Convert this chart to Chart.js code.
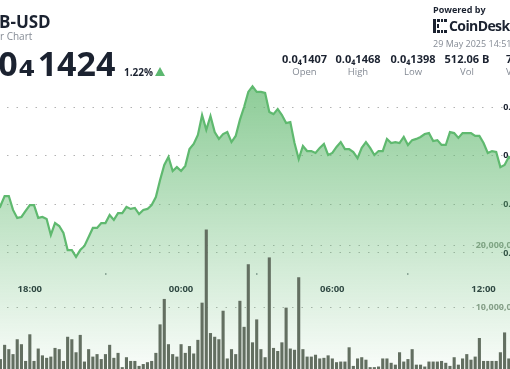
<!DOCTYPE html>
<html>
<head>
<meta charset="utf-8">
<script src="https://cdn.jsdelivr.net/npm/chart.js@4.4.1/dist/chart.umd.min.js"></script>
<style>
html,body{margin:0;padding:0;background:#fff;width:510px;height:369px;overflow:hidden;position:relative;font-family:'Open Sans',sans-serif;color:#1b2230}
#wrap{position:absolute;left:-50px;top:0;width:605px;height:369px}
.t{position:absolute;white-space:nowrap;line-height:1;z-index:2}
.b{font-weight:700}
.g{color:#858b95}
.col{width:60px;text-align:center}
.sub{font-family:'DejaVu Sans',sans-serif;line-height:0;font-size:39px;margin:0 2px 0 1px}
#tri{position:absolute;left:155px;top:67px;width:0;height:0;border-left:5.5px solid transparent;border-right:5.5px solid transparent;border-bottom:9px solid #5cb870}
#logo{position:absolute;left:433px;top:19px}
</style>
</head>
<body>
<div id="wrap"><canvas id="chartCanvas" width="605" height="369"></canvas></div>

<div class="t b" style="left:-1px;top:13px;font-size:17px">B-USD</div>
<div class="t g" style="left:0;top:31px;font-size:10px">r Chart</div>
<div class="t b" style="left:-31px;top:46px;font-size:34px">0.0<span class="sub">₄</span>1424</div>
<div class="t b" style="left:124px;top:66.5px;font-size:10px">1.22%</div>
<div id="tri"></div>

<div class="t b" style="left:433px;top:4.5px;font-size:9px">Powered by</div>
<svg id="logo" width="14" height="14" viewBox="0 0 14 14">
  <rect x="0" y="0" width="3" height="14" fill="#1b2230"/>
  <rect x="4" y="0" width="3" height="3" fill="#1b2230"/>
  <rect x="8" y="0" width="2" height="3" fill="#1b2230"/>
  <rect x="11" y="0" width="3" height="3" fill="#1b2230"/>
  <rect x="4" y="11" width="3" height="3" fill="#1b2230"/>
  <rect x="8" y="11" width="2" height="3" fill="#1b2230"/>
  <rect x="11" y="11" width="3" height="3" fill="#1b2230"/>
  <rect x="4" y="5" width="2" height="4" fill="#1b2230"/>
</svg>
<div class="t b" style="left:449px;top:19px;font-size:14px;letter-spacing:-0.6px">CoinDesk</div>
<div class="t g" style="left:433px;top:39px;font-size:9px">29 May 2025 14:51</div>

<div class="t b col" style="left:274.5px;top:52.5px;font-size:11px">0.0₄1407</div>
<div class="t g col" style="left:274.5px;top:67px;font-size:9.5px">Open</div>
<div class="t b col" style="left:328px;top:52.5px;font-size:11px">0.0₄1468</div>
<div class="t g col" style="left:328px;top:67px;font-size:9.5px">High</div>
<div class="t b col" style="left:383px;top:52.5px;font-size:11px">0.0₄1398</div>
<div class="t g col" style="left:383px;top:67px;font-size:9.5px">Low</div>
<div class="t b col" style="left:437px;top:52.5px;font-size:11px">512.06 B</div>
<div class="t g col" style="left:437px;top:67px;font-size:9.5px">Vol</div>
<div class="t b" style="left:506px;top:52.5px;font-size:11px">7</div>
<div class="t g" style="left:506px;top:67px;font-size:9.5px">V</div>

<script>
// 10 minute steps, 24 hours
const startMinute = 14 * 60 + 50;
const timeLabels = [];
for (let i = 0; i < 145; i++) {
    const m = (startMinute + i * 10) % 1440;
    timeLabels.push(String(Math.floor(m / 60)).padStart(2, '0') + ':' + String(m % 60).padStart(2, '0'));
}
const timeTicks = ['18:00', '00:00', '06:00', '12:00'];

// price in units of 0.0₄ (1424 -> 0.0₄1424 USD)
const price = [
    1407, 1410, 1412, 1409, 1413, 1416, 1414, 1418, 1421, 1417, 1420, 1422,
    1419.3, 1423.4, 1423.4, 1417.7, 1414.4, 1414.8, 1417.3, 1419.7, 1419.7, 1414.4,
    1414.8, 1414.0, 1407.4, 1412.3, 1411.1, 1408.2, 1401.2, 1401.2, 1398.4, 1401.2,
    1402.9, 1406.6, 1410.3, 1410.3, 1412.3, 1412.3, 1415.6, 1413.6, 1416.4, 1416.4,
    1418.9, 1418.1, 1418.5, 1416.0, 1417.7, 1418.1, 1419.7, 1423.0, 1430.0, 1436.2,
    1439.5, 1433.7, 1435.3, 1433.7, 1435.8, 1442.7, 1444.8, 1448.5, 1456.7, 1450.6,
    1456.3, 1449.7, 1446.9, 1448.9, 1449.7, 1445.6, 1448.1, 1454.7, 1460.0, 1466.2,
    1468.5, 1466.2, 1466.2, 1465.8, 1458.0, 1457.1, 1459.2, 1456.7, 1453.4, 1453.8,
    1445.2, 1438.6, 1444.0, 1441.9, 1441.9, 1441.1, 1443.2, 1444.8, 1440.3, 1441.1,
    1443.6, 1445.6, 1442.7, 1442.7, 1441.5, 1439.0, 1443.2, 1445.6, 1443.2, 1440.3,
    1441.9, 1441.9, 1446.9, 1445.2, 1445.6, 1445.2, 1447.7, 1444.4, 1446.4, 1446.9,
    1447.7, 1448.9, 1449.3, 1446.0, 1446.4, 1444.4, 1444.4, 1449.7, 1449.3, 1447.3,
    1449.3, 1449.3, 1449.3, 1448.1, 1448.1, 1445.2, 1441.1, 1441.9, 1441.5, 1435.3,
    1436.2, 1439.5,
    1438, 1434, 1430, 1428, 1431, 1427, 1425, 1429, 1426, 1423, 1424
];

// volume in billions
const volume = [
    2.1, 1.5, 3.0, 2.4, 1.8, 2.9, 1.2, 2.2, 3.6, 1.9, 2.5, 1.7,
    1.6, 3.9, 3.2, 2.4, 4.8, 4.0, 1.3, 5.6, 1.3, 3.3, 2.2, 1.8, 2.0, 3.4, 3.2, 1.3,
    5.2, 4.8, 2.7, 5.5, 1.2, 3.2, 2.0, 2.4, 1.6, 2.4, 3.9, 1.8, 2.6, 0.3, 1.9, 1.3,
    1.3, 0.5, 0.8, 1.1, 1.3, 2.6, 7.2, 11.3, 4.0,
    2.4, 2.0, 4.0, 2.6, 3.7, 2.5, 4.7, 10.7, 22.5, 5.8, 5.2, 4.8, 9.4, 1.7, 3.2, 2.4,
    11.0, 6.8, 16.9, 4.3, 8.0, 3.2, 1.9, 18.0, 3.4, 2.9, 4.3, 9.9, 3.3, 3.1, 14.8, 3.2,
    2.0, 2.0, 2.3, 1.7, 1.8, 2.2, 1.7, 1.1, 1.2,
    1.2, 3.5, 0.5, 1.7, 1.9, 1.5, 0.3, 0.3, 0.4, 1.7, 1.7, 1.0, 0.7, 2.7, 1.2, 1.6,
    3.2, 0.7, 0.7, 0.4, 1.2, 1.2, 1.2, 1.3, 1.0, 0.5, 1.9, 0.7, 1.7, 2.4, 1.5, 2.0,
    5.0, 1.3, 1.3, 1.3, 1.3, 2.7, 5.9, 1.7,
    2.0, 1.4, 3.1, 1.6, 2.2, 0.9, 1.8, 2.6, 1.3, 1.5, 0.8
];

const priceTicks = [1400, 1420, 1440, 1460];
const volumeTicks = [10, 20];

Chart.defaults.font.family = "'Open Sans', sans-serif";

function noPad(scale){
    scale.paddingTop = 0; scale.paddingBottom = 0;
    scale.paddingLeft = 0; scale.paddingRight = 0;
}
function noPadRight(scale){
    noPad(scale);
    scale.width = 0;
}

function areaFill(c){
    const chart = c.chart;
    if(!chart.chartArea) return 'rgba(98,185,112,0.3)';
    const top = chart.scales.y.getPixelForValue(Math.max(...price));
    const g = chart.ctx.createLinearGradient(0, top, 0, chart.chartArea.bottom);
    g.addColorStop(0, 'rgba(98,185,112,0.72)');
    g.addColorStop(1, 'rgba(98,185,112,0.04)');
    return g;
}

const ctx = document.getElementById('chartCanvas').getContext('2d');
const chart = new Chart(ctx, {
    data: {
        labels: timeLabels,
        datasets: [
            { type: 'line', data: price, yAxisID: 'y', borderColor: '#5fb96f', borderWidth: 2.2, pointRadius: 0, tension: 0, fill: 'start', backgroundColor: areaFill, order: 2 },
            { type: 'bar', data: volume, yAxisID: 'yv', backgroundColor: '#636f61', barPercentage: 0.74, categoryPercentage: 1, order: 1 }
        ]
    },
    options: {
        responsive: false,
        animation: false,
        layout: { padding: 0 },
        plugins: { legend: { display: false }, tooltip: { enabled: false } },
        scales: {
            x: {
                type: 'category', offset: false, position: { y: 1391.8 }, z: 1,
                afterFit: noPad,
                border: { display: false },
                grid: { drawOnChartArea: false, drawTicks: true, tickLength: 2, color: '#9aa0a6', lineWidth: 1.5 },
                ticks: {
                    autoSkip: false, maxRotation: 0, padding: 8.5, color: '#1e2533',
                    font: { weight: 'bold', size: 9.5 },
                    callback: (v, i) => timeTicks.includes(timeLabels[i]) ? timeLabels[i] : null
                }
            },
            y: {
                position: 'right', min: 1352.3, max: 1504, z: 1,
                afterBuildTicks: s => { s.ticks = priceTicks.map(v => ({ value: v })); },
                afterFit: noPadRight,
                border: { display: false, dash: [1.5, 8] },
                grid: { color: '#b2b2b2', drawTicks: false },
                ticks: { mirror: true, padding: -15, color: '#1b2230', font: { weight: 'bold', size: 9 },
                    callback: v => '0.0₄' + Math.round(v) }
            },
            yv: {
                position: 'right', min: 0, max: 59.52, z: 1,
                afterBuildTicks: s => { s.ticks = volumeTicks.map(v => ({ value: v })); },
                afterFit: noPadRight,
                border: { display: false, dash: [1.5, 8] },
                grid: { color: '#b2b2b2', drawTicks: false },
                ticks: { mirror: true, padding: -15, color: '#8d9a8d', font: { weight: 'bold', size: 9 },
                    callback: v => (v * 1e9).toLocaleString('en-US') }
            }
        }
    }
});
</script>
</body>
</html>
